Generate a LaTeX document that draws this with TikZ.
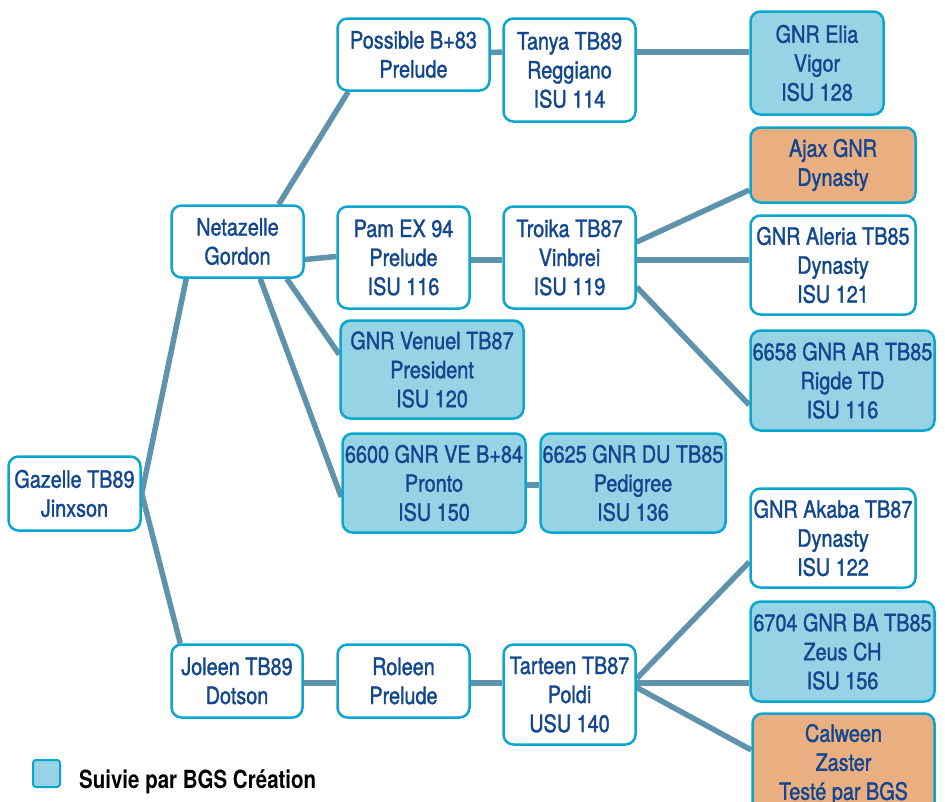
\documentclass[tikz,border=0pt]{standalone}
\usepackage{fontspec}
\usetikzlibrary{calc}
\newfontfamily\bxfamily[FakeStretch=0.83,FakeBold=1.3]{TeX Gyre Heros}
\newfontfamily\lgfamily[FakeStretch=0.82]{TeX Gyre Heros}
\definecolor{txtblue}{HTML}{12468F}
\definecolor{bordcyan}{HTML}{0AA6CE}
\definecolor{fillblue}{HTML}{95D3E5}
\definecolor{fillorange}{HTML}{E9AF80}
\definecolor{linkcol}{HTML}{5E93AB}
\pgfdeclarelayer{background}
\pgfsetlayers{background,main}
\begin{document}
\begin{tikzpicture}[x=1pt,y=-1pt,
  pbox/.style={draw=bordcyan, line width=2.5pt, rounded corners=10pt, fill=white,
    text=txtblue, align=center, inner sep=0pt,
    font=\bxfamily\fontsize{23.9}{29}\selectfont,
    execute at begin node={\rule{0pt}{23pt}}},
  pblue/.style={pbox, fill=fillblue},
  porange/.style={pbox, fill=fillorange},
  link/.style={draw=linkcol, line width=5.5pt}]
\clip (0,0) rectangle (945,801);
% generation 1
\node[pbox, minimum width=132pt, minimum height=74pt] (gaz) at (74.5,493.5) {Gazelle TB89\\Jinxson};
% generation 2
\node[pbox, minimum width=132pt, minimum height=72pt] (net) at (237.5,241.5) {Netazelle\\Gordon};
\node[pbox, minimum width=131pt, minimum height=73pt] (jol) at (237,681) {Joleen TB89\\Dotson};
% generation 3
\node[pbox, minimum width=152pt, minimum height=72pt] (pos) at (413.5,54.5) {Possible B+83\\Prelude};
\node[pbox, minimum width=132pt, minimum height=102pt] (pam) at (403.5,257.5) {Pam EX 94\\Prelude\\ISU 116};
\node[pblue, minimum width=183pt, minimum height=98pt] (ven) at (432,369.5) {GNR Venuel TB87\\President\\ISU 120};
\node[pblue, minimum width=183pt, minimum height=99pt] (v66) at (434,483) {6600 GNR VE B+84\\Pronto\\ISU 150};
\node[pbox, minimum width=132pt, minimum height=73pt] (rol) at (403.5,681) {Roleen\\Prelude};
% generation 4
\node[pbox, minimum width=132pt, minimum height=103pt] (tan) at (569.5,70) {Tanya TB89\\Reggiano\\ISU 114};
\node[pbox, minimum width=132pt, minimum height=102pt] (tro) at (569.5,257.5) {Troika TB87\\Vinbrei\\ISU 119};
\node[pblue, minimum width=185pt, minimum height=99pt] (d66) at (633,483) {6625 GNR DU TB85\\Pedigree\\ISU 136};
\node[pbox, minimum width=132pt, minimum height=100pt] (tar) at (569.5,694.5) {Tarteen TB87\\Poldi\\USU 140};
% generation 5
\node[pblue, minimum width=133pt, minimum height=103pt] (eli) at (817,63) {GNR Elia\\Vigor\\ISU 128};
\node[porange, minimum width=165pt, minimum height=75pt] (aja) at (833,165) {Ajax GNR\\Dynasty};
\node[pbox, minimum width=165pt, minimum height=99pt] (ale) at (833,265) {GNR Aleria TB85\\Dynasty\\ISU 121};
\node[pblue, minimum width=184pt, minimum height=100pt] (g66) at (842.5,380.5) {6658 GNR AR TB85\\Rigde TD\\ISU 116};
\node[pbox, minimum width=165pt, minimum height=99pt] (aka) at (833,538) {GNR Akaba TB87\\Dynasty\\ISU 122};
\node[pblue, minimum width=184pt, minimum height=100pt] (g67) at (842.5,651.5) {6704 GNR BA TB85\\Zeus CH\\ISU 156};
\node[porange, minimum width=182pt, minimum height=102pt] (cal) at (843.5,764.5) {Calween\\Zaster\\Test\'e par BGS};
% legend
\node[draw=bordcyan, line width=2pt, rounded corners=3pt, fill=fillblue,
  minimum width=27pt, minimum height=27pt, inner sep=0pt] (lgbox) at (46.5,773.5) {};
\node[anchor=base west, inner sep=0pt, text=black,
  font=\lgfamily\bfseries\fontsize{25}{30}\selectfont] (lgtext) at (79,788) {Suivie par BGS Création};
% connectors
\begin{pgfonlayer}{background}
\draw[link] (gaz.east) -- ($(net.south west)+(16,0)$);
\draw[link] (gaz.east) -- ($(jol.north west)+(10,0)$);
\draw[link] ($(net.north east)+(-26,0)$) -- ($(pos.south west)+(12,0)$);
\draw[link] ($(net.east)+(0,18)$) -- ($(pam.west)+(0,-1)$);
\draw[link] ($(net.south east)+(-18,0)$) -- ($(ven.west)+(0,-15)$);
\draw[link] ($(net.south west)+(90,0)$) -- ($(v66.west)+(0,14)$);
\draw[link] ($(pos.east)+(0,-2)$) -- ($(tan.west)+(0,-18)$);
\draw[link] ($(tan.east)+(0,-18)$) -- ($(eli.west)+(0,-11)$);
\draw[link] ($(pam.east)+(0,2.5)$) -- ($(tro.west)+(0,2.5)$);
\draw[link] ($(tro.east)+(0,-15.5)$) -- ($(aja.west)+(0,25)$);
\draw[link] ($(tro.east)+(0,2.5)$) -- ($(ale.west)+(0,-5)$);
\draw[link] ($(tro.east)+(0,29.5)$) -- ($(g66.west)+(0,24.5)$);
\draw[link] ($(v66.east)+(0,2)$) -- ($(d66.west)+(0,2)$);
\draw[link] ($(jol.east)+(0,2)$) -- ($(rol.west)+(0,2)$);
\draw[link] ($(rol.east)+(0,2)$) -- ($(tar.west)+(0,-11.5)$);
\draw[link] ($(tar.east)+(0,-16)$) -- ($(aka.west)+(0,24)$);
\draw[link] ($(tar.east)+(0,-11.5)$) -- ($(g67.west)+(0,31.5)$);
\draw[link] ($(tar.east)+(0,-7)$) -- ($(cal.west)+(0,-14.5)$);
\end{pgfonlayer}
\end{tikzpicture}
\end{document}
